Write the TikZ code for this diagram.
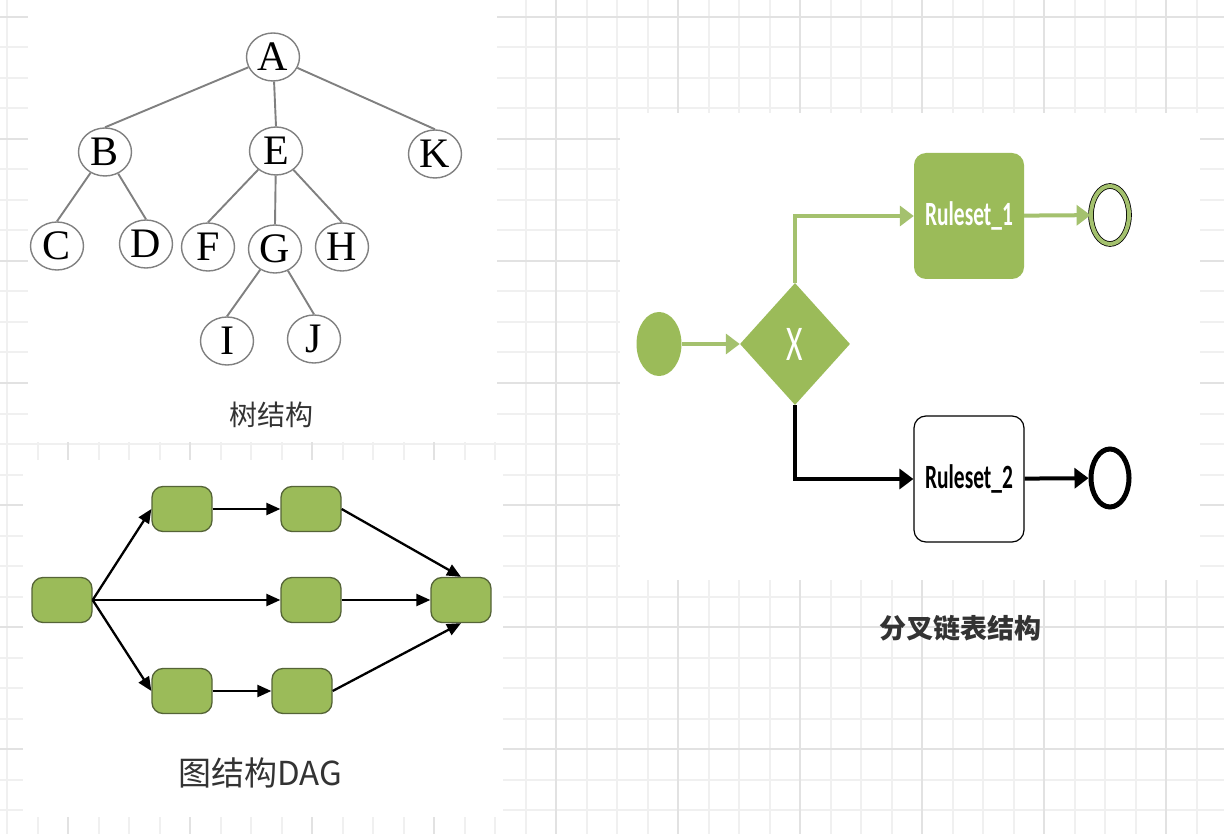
\documentclass[tikz,border=0pt]{standalone}
\usepackage{fontspec}
\setmainfont{Liberation Serif}
\newfontfamily\cjk{Noto Sans CJK SC}
\newfontfamily\rulefont[FakeStretch=0.63]{Carlito}
\usetikzlibrary{arrows.meta,shapes.geometric}
\definecolor{gridthin}{RGB}{240,240,240}
\definecolor{gridthick}{RGB}{226,226,226}
\definecolor{olive}{RGB}{155,187,89}
\definecolor{oliveline}{RGB}{85,100,55}
\definecolor{flowgreen}{RGB}{164,193,110}
\definecolor{treeline}{RGB}{128,128,128}
\definecolor{captext}{RGB}{51,51,51}

\begin{document}
\begin{tikzpicture}[x=1pt,y=-1pt,
    treenode/.style={ellipse,draw=treeline,line width=1.4,minimum width=53,minimum height=48,inner sep=0,font=\fontsize{42}{42}\selectfont},
    treeedge/.style={draw=treeline,line width=1.9},
    dagbox/.style={rectangle,rounded corners=11,fill=olive,draw=oliveline,line width=1.3,minimum width=60,minimum height=45,inner sep=0},
    dagarrow/.style={-{Triangle[length=14pt,width=12pt]},line width=2.3},
    greenflow/.style={-{Triangle[length=14pt,width=20pt]},draw=flowgreen,line width=4},
    blackflow/.style={-{Triangle[length=14pt,width=20pt]},draw=black,line width=4},
    rulebox/.style={rectangle,rounded corners=12,minimum width=110,minimum height=126,inner sep=0,font=\rulefont\bfseries\fontsize{34}{34}\selectfont},
    caption/.style={text=captext,inner sep=0}]
  \useasboundingbox (0,0) rectangle (1224,834);
  % grid paper
  \foreach \k in {0,...,39} \draw[gridthin,line width=2] (7+30.5*\k,0) -- (7+30.5*\k,834);
  \foreach \k in {0,...,26} \draw[gridthin,line width=2] (0,17+30.5*\k) -- (1224,17+30.5*\k);
  \foreach \k in {0,...,9} \draw[gridthick,line width=2.5] (68+122*\k,0) -- (68+122*\k,834);
  \foreach \k in {0,...,6} \draw[gridthick,line width=2.5] (0,17+122*\k) -- (1224,17+122*\k);
  \fill[white] (28,0) rectangle (497,442);
  \fill[white] (23,460) rectangle (503,817);
  \fill[white] (620,113) rectangle (1200,580);

  % tree
  \node[treenode] (A) at (273,57) {A};
  \node[treenode] (B) at (105,152) {B};
  \node[treenode] (E) at (276,151) {E};
  \node[treenode] (K) at (435,154) {K};
  \node[treenode] (C) at (57,246) {C};
  \node[treenode] (D) at (146,244) {D};
  \node[treenode] (F) at (208,247) {F};
  \node[treenode] (G) at (275,249) {G};
  \node[treenode] (H) at (342,247) {H};
  \node[treenode] (I) at (227,341) {I};
  \node[treenode] (J) at (314,339) {J};
  \foreach \p/\c in {A/B,A/E,A/K,B/C,B/D,E/F,E/G,E/H,G/I,G/J}
    \draw[treeedge] (\p) -- (\c.north);
  \node[caption,font=\cjk\fontsize{28}{28}\selectfont] (treecap) at (271,415) {树结构};

  % DAG
  \node[dagbox] (src) at (62,600) {};
  \node[dagbox] (up1) at (182,509) {};
  \node[dagbox] (up2) at (311,509) {};
  \node[dagbox] (mid) at (311,600) {};
  \node[dagbox] (low1) at (182,691) {};
  \node[dagbox] (low2) at (302,691) {};
  \node[dagbox] (sink) at (461,600) {};
  \draw[dagarrow] (src.east) -- (up1.west);
  \draw[dagarrow] (src.east) -- (mid.west);
  \draw[dagarrow] (src.east) -- (low1.west);
  \draw[dagarrow] (up1) -- (up2);
  \draw[dagarrow] (low1) -- (low2);
  \draw[dagarrow] (up2.east) -- (sink.north);
  \draw[dagarrow] (mid) -- (sink);
  \draw[dagarrow] (low2.east) -- (sink.south);
  \node[caption,font=\cjk\fontsize{33}{33}\selectfont] (dagcap) at (260,773) {图结构DAG};

  % branching list
  \node[ellipse,fill=olive,minimum width=45,minimum height=64,inner sep=0] (start) at (659,344) {};
  \node[diamond,fill=olive,minimum width=110,minimum height=122,inner sep=0,text=white,font=\rulefont\fontsize{50}{50}\selectfont] (gate) at (795,344) {X};
  \node[rulebox,fill=olive,text=white] (rule1) at (969,216) {Ruleset\_1};
  \node[rulebox,draw=black,line width=1.2,fill=white] (rule2) at (969,479) {Ruleset\_2};
  \node[ellipse,draw=black,line width=0.8,double=flowgreen,double distance=4,minimum width=38,minimum height=58,inner sep=0] (end1) at (1110,215) {};
  \node[ellipse,draw=black,line width=5,minimum width=38,minimum height=58,inner sep=0] (end2) at (1110,478) {};
  \draw[greenflow] (start) -- (gate);
  \draw[greenflow] (gate.north) |- (rule1.west);
  \draw[greenflow] (rule1) -- (end1);
  \draw[blackflow] (gate.south) |- (rule2.west);
  \draw[blackflow] (rule2) -- (end2);
  \node[caption,font=\cjk\bfseries\fontsize{27}{27}\selectfont] (flowcap) at (960,628) {分叉链表结构};
\end{tikzpicture}
\end{document}
